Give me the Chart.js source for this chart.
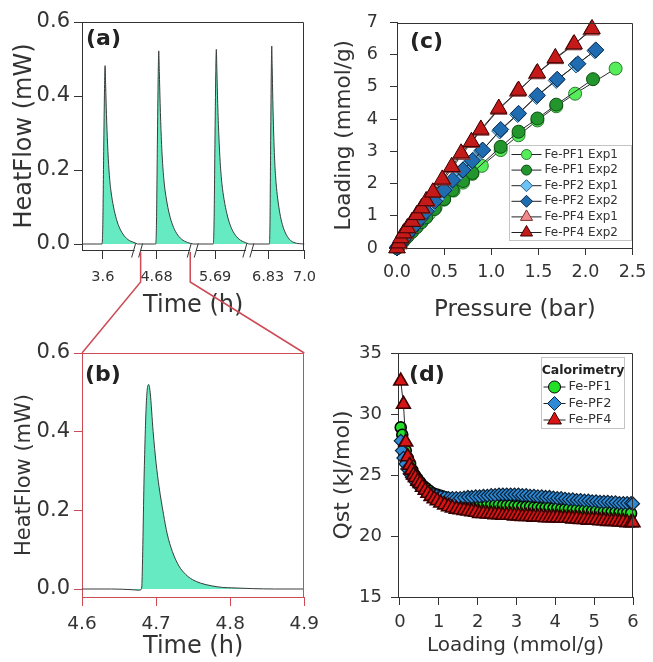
<!DOCTYPE html>
<html>
<head>
<meta charset="utf-8">
<title>Fe-PF calorimetry</title>
<script src="https://cdn.jsdelivr.net/npm/chart.js@4.4.1/dist/chart.umd.min.js"></script>
<style>
  html, body { margin: 0; padding: 0; background: #fff; }
  #sheet { position: relative; width: 653px; height: 662px; overflow: hidden; }
  #sheet canvas { position: absolute; }
</style>
</head>
<body>
<div id="sheet">
  <canvas id="chartA" width="326" height="322" style="left:0px;top:0px"></canvas>
  <canvas id="chartB" width="326" height="332" style="left:0px;top:330px"></canvas>
  <canvas id="chartC" width="327" height="330" style="left:326px;top:0px"></canvas>
  <canvas id="chartD" width="327" height="332" style="left:326px;top:330px"></canvas>
  <canvas id="links" width="653" height="662" style="left:0px;top:0px"></canvas>
</div>
<script>
// ---- (a) heat flow peaks, time axis broken in four pieces
const segmentsA = [[3.525, 3.725], [4.612, 4.812], [5.611, 5.811], [6.74, 7.0]];
const tickTimesA = [3.6, 4.68, 5.69, 6.83, 7.0];
const tickLabelsA = ['3.6', '4.68', '5.69', '6.83', '7.0'];

const timeA1 = [3.525, 3.597, 3.600, 3.603, 3.606, 3.608, 3.610, 3.613, 3.617, 3.622, 3.628, 3.636, 3.646, 3.658, 3.672, 3.690, 3.712, 3.725];
const heatA1 = [0, 0, 0.06, 0.25, 0.42, 0.482, 0.43, 0.35, 0.27, 0.20, 0.15, 0.11, 0.075, 0.047, 0.027, 0.012, 0.004, 0];
const timeA2 = [4.612, 4.677, 4.680, 4.683, 4.686, 4.688, 4.690, 4.693, 4.697, 4.702, 4.708, 4.716, 4.726, 4.738, 4.752, 4.770, 4.792, 4.812];
const heatA2 = [0, 0, 0.065, 0.27, 0.455, 0.522, 0.466, 0.38, 0.29, 0.217, 0.162, 0.119, 0.081, 0.051, 0.029, 0.013, 0.004, 0];
const timeA3 = [5.611, 5.683, 5.686, 5.689, 5.692, 5.694, 5.696, 5.699, 5.703, 5.708, 5.714, 5.722, 5.732, 5.744, 5.758, 5.776, 5.798, 5.811];
const heatA3 = [0, 0, 0.065, 0.27, 0.46, 0.526, 0.47, 0.38, 0.295, 0.22, 0.164, 0.12, 0.082, 0.051, 0.029, 0.013, 0.004, 0];
const timeA4 = [6.74, 6.836, 6.839, 6.842, 6.845, 6.847, 6.849, 6.852, 6.856, 6.861, 6.867, 6.875, 6.885, 6.897, 6.911, 6.929, 6.951, 6.975, 7.0];
const heatA4 = [0, 0, 0.067, 0.28, 0.47, 0.535, 0.48, 0.39, 0.30, 0.222, 0.167, 0.122, 0.083, 0.052, 0.03, 0.013, 0.004, 0.001, 0];

// ---- (b) zoom on the second peak
const timeB = [4.600, 4.640, 4.670, 4.676, 4.680, 4.681, 4.684, 4.687, 4.690, 4.692, 4.696, 4.700, 4.704, 4.710, 4.715, 4.722, 4.731, 4.740, 4.749, 4.760, 4.775, 4.790, 4.802, 4.830, 4.860, 4.900];
const heatB = [0.000, 0.000, -0.002, -0.003, -0.001, 0.02, 0.30, 0.48, 0.52, 0.50, 0.40, 0.32, 0.26, 0.19, 0.14, 0.095, 0.058, 0.037, 0.024, 0.015, 0.008, 0.004, 0.003, 0.001, 0.000, 0.000];
const heatTicks = [0, 0.2, 0.4, 0.6];
const timeTicksB = [4.6, 4.7, 4.8, 4.9];

// ---- (c) isotherms
const presPF1e1 = [0.00, 0.02, 0.05, 0.08, 0.12, 0.17, 0.22, 0.28, 0.34, 0.41, 0.50, 0.60, 0.70, 0.80, 0.90, 1.10, 1.29, 1.49, 1.69, 1.89, 2.32];
const loadPF1e1 = [0.00, 0.07, 0.17, 0.27, 0.40, 0.55, 0.71, 0.89, 1.06, 1.26, 1.50, 1.78, 2.03, 2.30, 2.55, 3.04, 3.50, 3.96, 4.40, 4.79, 5.57];
const presPF1e2 = [0.00, 0.02, 0.04, 0.07, 0.11, 0.16, 0.21, 0.26, 0.31, 0.40, 0.50, 0.59, 0.70, 0.80, 1.10, 1.29, 1.49, 1.69, 2.08];
const loadPF1e2 = [0.00, 0.07, 0.13, 0.22, 0.35, 0.50, 0.65, 0.80, 0.95, 1.21, 1.52, 1.80, 2.08, 2.33, 3.14, 3.61, 4.02, 4.45, 5.24];
const presPF2e1 = [0.00, 0.02, 0.04, 0.07, 0.11, 0.16, 0.21, 0.27, 0.33, 0.42, 0.51, 0.61, 0.71, 0.81, 0.90, 1.09, 1.28, 1.48, 1.69, 1.90, 2.10];
const loadPF2e1 = [0.00, 0.07, 0.15, 0.26, 0.42, 0.60, 0.78, 0.99, 1.20, 1.52, 1.82, 2.15, 2.46, 2.74, 3.02, 3.63, 4.14, 4.70, 5.20, 5.68, 6.12];
const presPF2e2 = [0.00, 0.01, 0.03, 0.06, 0.10, 0.15, 0.20, 0.25, 0.31, 0.40, 0.50, 0.59, 0.70, 0.80, 0.91, 1.10, 1.29, 1.49, 1.70, 1.92, 2.11];
const loadPF2e2 = [0.00, 0.04, 0.11, 0.23, 0.38, 0.56, 0.74, 0.93, 1.14, 1.45, 1.80, 2.11, 2.42, 2.71, 3.04, 3.68, 4.18, 4.74, 5.24, 5.72, 6.15];
const presPF4e1 = [0.00, 0.02, 0.05, 0.08, 0.12, 0.17, 0.22, 0.27, 0.32, 0.39, 0.49, 0.59, 0.69, 0.79, 0.89, 1.08, 1.28, 1.48, 1.68, 1.87, 2.06];
const loadPF4e1 = [0.00, 0.12, 0.30, 0.45, 0.62, 0.82, 1.02, 1.22, 1.44, 1.72, 2.10, 2.50, 2.90, 3.27, 3.65, 4.30, 4.86, 5.40, 5.87, 6.30, 6.76];
const presPF4e2 = [0.00, 0.02, 0.04, 0.07, 0.11, 0.16, 0.21, 0.26, 0.31, 0.38, 0.48, 0.58, 0.68, 0.79, 0.89, 1.08, 1.29, 1.49, 1.68, 1.88, 2.07];
const loadPF4e2 = [0.00, 0.15, 0.31, 0.46, 0.62, 0.82, 1.03, 1.24, 1.46, 1.73, 2.13, 2.52, 2.94, 3.30, 3.68, 4.33, 4.89, 5.43, 5.90, 6.33, 6.80];
const presTicks = [0, 0.5, 1.0, 1.5, 2.0, 2.5];
const loadTicks = [0, 1, 2, 3, 4, 5, 6, 7];

// ---- (d) isosteric heat from calorimetry
const loadPF1 = [0.02, 0.06, 0.10, 0.15, 0.20, 0.26, 0.32, 0.38, 0.45, 0.52, 0.60, 0.68, 0.76, 0.85, 0.95,
  1.05, 1.15, 1.25, 1.35, 1.45, 1.55, 1.65, 1.75, 1.85, 1.95, 2.05, 2.15, 2.25, 2.35, 2.45, 2.55, 2.65, 2.75, 2.85, 2.95,
  3.05, 3.15, 3.25, 3.35, 3.45, 3.55, 3.65, 3.75, 3.85, 3.95, 4.05, 4.15, 4.25, 4.35, 4.45, 4.55, 4.65, 4.75, 4.85, 4.95,
  5.05, 5.15, 5.25, 5.35, 5.45, 5.55, 5.65, 5.75, 5.85, 5.95];
const qstPF1 = [28.9, 28.3, 27.6, 27.0, 26.4, 25.9, 25.4, 25.0, 24.7, 24.4, 24.1, 23.9, 23.7, 23.5, 23.4,
  23.3, 23.2, 23.1, 23.0, 22.95, 22.9, 22.85, 22.8, 22.75, 22.7, 22.7, 22.65, 22.6, 22.6, 22.55, 22.55, 22.5, 22.5, 22.5, 22.45,
  22.45, 22.4, 22.4, 22.4, 22.35, 22.35, 22.3, 22.3, 22.3, 22.25, 22.25, 22.2, 22.2, 22.2, 22.15, 22.15, 22.1, 22.1, 22.1, 22.05,
  22.05, 22.0, 22.0, 22.0, 21.95, 21.95, 21.9, 21.9, 21.9, 21.85];
const loadPF2 = [0.02, 0.05, 0.09, 0.14, 0.19, 0.25, 0.31, 0.38, 0.45, 0.52, 0.60, 0.68, 0.76, 0.85, 0.95,
  1.05, 1.15, 1.25, 1.35, 1.45, 1.55, 1.65, 1.75, 1.85, 1.95, 2.05, 2.15, 2.25, 2.35, 2.45, 2.55, 2.65, 2.75, 2.85, 2.95,
  3.05, 3.15, 3.25, 3.35, 3.45, 3.55, 3.65, 3.75, 3.85, 3.95, 4.05, 4.15, 4.25, 4.35, 4.45, 4.55, 4.65, 4.75, 4.85, 4.95,
  5.05, 5.15, 5.25, 5.35, 5.45, 5.55, 5.65, 5.75, 5.85, 5.95, 6.00];
const qstPF2 = [27.8, 27.0, 26.4, 25.9, 25.5, 25.1, 24.8, 24.5, 24.2, 24.0, 23.8, 23.6, 23.5, 23.4, 23.3,
  23.2, 23.15, 23.1, 23.1, 23.1, 23.1, 23.15, 23.2, 23.2, 23.25, 23.25, 23.3, 23.3, 23.35, 23.35, 23.4, 23.4, 23.4, 23.4, 23.4,
  23.4, 23.35, 23.35, 23.3, 23.3, 23.25, 23.25, 23.2, 23.2, 23.15, 23.1, 23.1, 23.05, 23.0, 23.0, 22.95, 22.95, 22.9, 22.9, 22.85,
  22.85, 22.8, 22.8, 22.8, 22.75, 22.75, 22.7, 22.7, 22.7, 22.7, 22.65];
const loadPF4 = [0.02, 0.09, 0.15, 0.20, 0.25, 0.30, 0.35, 0.40, 0.46, 0.52, 0.58, 0.65, 0.72, 0.80, 0.88, 0.96,
  1.05, 1.15, 1.25, 1.35, 1.45, 1.55, 1.65, 1.75, 1.85, 1.95, 2.05, 2.15, 2.25, 2.35, 2.45, 2.55, 2.65, 2.75, 2.85, 2.95,
  3.05, 3.15, 3.25, 3.35, 3.45, 3.55, 3.65, 3.75, 3.85, 3.95, 4.05, 4.15, 4.25, 4.35, 4.45, 4.55, 4.65, 4.75, 4.85, 4.95,
  5.05, 5.15, 5.25, 5.35, 5.45, 5.55, 5.65, 5.75, 5.85, 5.95, 6.00];
const qstPF4 = [32.7, 30.8, 27.7, 26.5, 25.8, 25.4, 25.0, 24.8, 24.5, 24.3, 24.0, 23.75, 23.5, 23.25, 23.05, 22.9,
  22.7, 22.55, 22.4, 22.3, 22.2, 22.15, 22.1, 22.05, 22.0, 21.95, 21.85, 21.85, 21.8, 21.8, 21.75, 21.75, 21.7, 21.7, 21.7, 21.65,
  21.65, 21.6, 21.6, 21.6, 21.55, 21.55, 21.55, 21.5, 21.5, 21.5, 21.5, 21.45, 21.45, 21.45, 21.4, 21.4, 21.35, 21.35, 21.3, 21.3,
  21.3, 21.25, 21.25, 21.2, 21.2, 21.2, 21.15, 21.15, 21.1, 21.1, 21.1];
const qLoadTicks = [0, 1, 2, 3, 4, 5, 6];
const qstTicks = [15, 20, 25, 30, 35];

Chart.defaults.font.family = '"DejaVu Sans", sans-serif';
Chart.defaults.color = '#333';

const TEAL = '#66eac2';
const RED = '#cd4b55';
const INK = '#333';

// time -> position on the broken axis (one unit per piece)
function brokenX(t) {
    for (let i = 0; i < segmentsA.length; i++) {
        const [s, e] = segmentsA[i];
        if (t >= s - 1e-9 && t <= e + 1e-9) return i + (t - s) / (e - s);
    }
    return NaN;
}

function points(xs, ys, fx) {
    return xs.map((x, i) => ({ x: fx ? fx(x) : x, y: ys[i] }));
}

// small marker painter, shared by the two legends
function drawMarker(ctx, style, x, y, r, fill, edge) {
    ctx.beginPath();
    if (style === 'circle') {
        ctx.arc(x, y, r, 0, Math.PI * 2);
    } else if (style === 'rectRot') {
        ctx.moveTo(x, y - r); ctx.lineTo(x + r, y); ctx.lineTo(x, y + r); ctx.lineTo(x - r, y);
    } else {
        ctx.moveTo(x, y - r); ctx.lineTo(x + 0.866 * r, y + 0.5 * r); ctx.lineTo(x - 0.866 * r, y + 0.5 * r);
    }
    ctx.closePath();
    ctx.fillStyle = fill; ctx.fill();
    ctx.strokeStyle = edge; ctx.lineWidth = 1; ctx.stroke();
}

// top and right sides of the box
const framePlugin = {
    id: 'frame',
    afterDraw(chart, args, opts) {
        const { ctx, chartArea: a } = chart;
        const l = Math.round(a.left) + 0.5, t = Math.round(a.top) + 0.5;
        const r = Math.round(a.right) - 0.5, b = Math.round(a.bottom) + 0.5;
        ctx.save();
        ctx.strokeStyle = opts.color;
        ctx.lineWidth = 1;
        ctx.beginPath();
        ctx.moveTo(l, t); ctx.lineTo(r, t); ctx.lineTo(r, b);
        ctx.stroke();
        ctx.restore();
    }
};

// panel letter
const tagPlugin = {
    id: 'tag',
    afterDraw(chart, args, opts) {
        const { ctx, chartArea: a } = chart;
        ctx.save();
        ctx.font = 'bold ' + opts.size + 'px "DejaVu Sans"';
        ctx.fillStyle = '#222';
        ctx.textBaseline = 'middle';
        ctx.fillText(opts.text, a.left + opts.dx, a.top + opts.dy);
        ctx.restore();
    }
};

// "//" marks on the broken axis of (a)
const breakPlugin = {
    id: 'axisBreaks',
    afterDraw(chart, args, opts) {
        const { ctx, chartArea: a, scales } = chart;
        const y = Math.round(a.bottom) + 0.5;
        ctx.save();
        opts.at.forEach(v => {
            const px = scales.x.getPixelForValue(v);
            ctx.fillStyle = '#fff';
            ctx.fillRect(px - 3, y - 2, 6, 4);
            ctx.strokeStyle = INK;
            ctx.lineWidth = 1;
            ctx.beginPath();
            ctx.moveTo(px - 6, y + 7); ctx.lineTo(px - 2, y - 7);
            ctx.moveTo(px + 1, y + 7); ctx.lineTo(px + 5, y - 7);
            ctx.stroke();
        });
        ctx.restore();
    }
};

// legend box inside the plot area
const legendPlugin = {
    id: 'boxLegend',
    afterDraw(chart, args, o) {
        const { ctx, chartArea: a } = chart;
        const x0 = Math.round(a.right - o.right - o.w) + 0.5, y0 = Math.round(a.top + o.top) + 0.5;
        ctx.save();
        ctx.fillStyle = '#fff';
        ctx.fillRect(x0, y0, o.w, o.h);
        ctx.strokeStyle = '#c4c4c4';
        ctx.lineWidth = 1;
        ctx.strokeRect(x0, y0, o.w, o.h);
        ctx.textBaseline = 'middle';
        let y = y0 + o.first;
        if (o.title) {
            ctx.font = 'bold ' + o.titleSize + 'px "DejaVu Sans"';
            ctx.fillStyle = '#222';
            ctx.textAlign = 'center';
            ctx.fillText(o.title, x0 + o.w / 2, y);
            y += o.rowH;
        }
        ctx.textAlign = 'left';
        o.items.forEach(idx => {
            const ds = chart.data.datasets[idx];
            const lx = x0 + o.lineX;
            ctx.strokeStyle = '#222';
            ctx.lineWidth = 1;
            ctx.beginPath();
            ctx.moveTo(lx, y); ctx.lineTo(lx + o.lineW, y);
            ctx.stroke();
            drawMarker(ctx, ds.pointStyle, lx + o.lineW / 2, y, o.markR[ds.pointStyle], ds.pointBackgroundColor, ds.pointBorderColor);
            ctx.font = o.size + 'px "DejaVu Sans"';
            ctx.fillStyle = '#333';
            ctx.fillText(ds.label, lx + o.lineW + 3, y);
            y += o.rowH;
        });
        ctx.restore();
    }
};

function axisLook(color, tickLen, size, pad) {
    return {
        border: { color: color, width: 1 },
        grid: { drawOnChartArea: false, drawTicks: true, tickLength: tickLen, tickColor: color, tickWidth: 1 },
        ticks: { font: { size: size }, color: INK, padding: pad, autoSkip: false, maxRotation: 0 }
    };
}

const baseOptions = {
    responsive: false,
    animation: false,
    devicePixelRatio: 1,
    events: []
};

// (a)
const xA = axisLook(INK, 9, 14.5, 10);
xA.ticks.callback = (v, i) => tickLabelsA[i];
const yA = axisLook(INK, 8, 21, 4);
yA.ticks.callback = v => v.toFixed(1);

const peakSets = [[timeA1, heatA1], [timeA2, heatA2], [timeA3, heatA3], [timeA4, heatA4]];

const chartA = new Chart(document.getElementById('chartA').getContext('2d'), {
    type: 'line',
    data: {
        datasets: peakSets.map(p => ({
            data: points(p[0], p[1], brokenX),
            borderColor: '#3c3c3c',
            borderWidth: 1,
            backgroundColor: TEAL,
            fill: 'origin',
            pointRadius: 0,
            cubicInterpolationMode: 'monotone'
        }))
    },
    options: Object.assign({}, baseOptions, {
        layout: { padding: { top: 22, right: 20, left: 0, bottom: 0 } },
        plugins: {
            legend: { display: false }, tooltip: { enabled: false },
            frame: { color: INK },
            tag: { text: '(a)', size: 22, dx: 4, dy: 17 },
            axisBreaks: { at: [1, 2, 3] }
        },
        scales: {
            x: Object.assign(xA, {
                type: 'linear', min: 0, max: segmentsA.length,
                afterBuildTicks: s => { s.ticks = tickTimesA.map(t => ({ value: brokenX(t) })); },
                afterFit: s => { s.height = 72; },
                title: { display: true, text: 'Time (h)', color: INK, font: { size: 24 }, padding: { top: 0, bottom: 1.5 } }
            }),
            y: Object.assign(yA, {
                type: 'linear', min: -0.0162, max: 0.6,
                afterBuildTicks: s => { s.ticks = heatTicks.map(v => ({ value: v })); },
                afterFit: s => { s.width = 82; },
                title: { display: true, text: 'HeatFlow (mW)', color: INK, font: { size: 24 }, padding: { top: 10.6, bottom: 0 } }
            })
        }
    }),
    plugins: [framePlugin, tagPlugin, breakPlugin]
});

// (b)
const xB = axisLook(RED, 9, 18.5, 7);
xB.ticks.callback = v => v.toFixed(1);
const yB = axisLook(RED, 8, 21, 4);
yB.ticks.callback = v => v.toFixed(1);

const chartB = new Chart(document.getElementById('chartB').getContext('2d'), {
    type: 'line',
    data: {
        datasets: [{
            data: points(timeB, heatB),
            borderColor: '#3c3c3c',
            borderWidth: 1,
            backgroundColor: TEAL,
            fill: 'origin',
            pointRadius: 0,
            cubicInterpolationMode: 'monotone'
        }]
    },
    options: Object.assign({}, baseOptions, {
        layout: { padding: { top: 23, right: 20, left: 0, bottom: 0 } },
        plugins: {
            legend: { display: false }, tooltip: { enabled: false },
            frame: { color: RED },
            tag: { text: '(b)', size: 22, dx: 3, dy: 22 },
        },
        scales: {
            x: Object.assign(xB, {
                type: 'linear', min: 4.6, max: 4.9,
                afterBuildTicks: s => { s.ticks = timeTicksB.map(v => ({ value: v })); },
                afterFit: s => { s.height = 65; },
                title: { display: true, text: 'Time (h)', color: INK, font: { size: 24 }, padding: { top: 0, bottom: 0.5 } }
            }),
            y: Object.assign(yB, {
                type: 'linear', min: -0.0203, max: 0.6,
                afterBuildTicks: s => { s.ticks = heatTicks.map(v => ({ value: v })); },
                afterFit: s => { s.width = 82; },
                title: { display: true, text: 'HeatFlow (mW)', color: INK, font: { size: 21 }, padding: { top: 12.4, bottom: 0 } }
            })
        }
    }),
    plugins: [framePlugin, tagPlugin]
});

// (c)
function isoSeries(label, xs, ys, style, fill, edge, r, order, edgeW) {
    return {
        label: label,
        data: points(xs, ys),
        showLine: true,
        borderColor: '#2a2a2a',
        borderWidth: 1,
        pointStyle: style,
        pointRadius: r,
        pointBackgroundColor: fill,
        pointBorderColor: edge,
        pointBorderWidth: edgeW || 1,
        clip: false,
        order: order
    };
}

const xC = axisLook(INK, 7, 17.5, 6.5);
xC.ticks.callback = v => v.toFixed(1);
const yC = axisLook(INK, 7, 17.5, 12);

const chartC = new Chart(document.getElementById('chartC').getContext('2d'), {
    type: 'scatter',
    data: {
        datasets: [
            isoSeries('Fe-PF1 Exp1', presPF1e1, loadPF1e1, 'circle', '#55ee5a', '#2a7a2e', 6.5, 6),
            isoSeries('Fe-PF1 Exp2', presPF1e2, loadPF1e2, 'circle', '#22962c', '#0e4a12', 6.5, 5),
            isoSeries('Fe-PF2 Exp1', presPF2e1, loadPF2e1, 'rectRot', '#6ec1f5', '#2a5f88', 8, 4),
            isoSeries('Fe-PF2 Exp2', presPF2e2, loadPF2e2, 'rectRot', '#1f6cb0', '#0b2a4d', 8, 3),
            isoSeries('Fe-PF4 Exp1', presPF4e1, loadPF4e1, 'triangle', '#f08a8a', '#7a3030', 9.5, 2),
            isoSeries('Fe-PF4 Exp2', presPF4e2, loadPF4e2, 'triangle', '#c41a1a', '#3a0000', 9.5, 1)
        ]
    },
    options: Object.assign({}, baseOptions, {
        layout: { padding: { top: 22, right: 18, left: 0, bottom: 0 } },
        plugins: {
            legend: { display: false }, tooltip: { enabled: false },
            frame: { color: INK },
            tag: { text: '(c)', size: 22, dx: 13, dy: 20 },
            boxLegend: {
                right: 2, top: 122, w: 122, h: 95, first: 9, rowH: 15.6,
                lineX: 2, lineW: 30, size: 12, items: [0, 1, 2, 3, 4, 5],
                markR: { circle: 5, rectRot: 6, triangle: 7 }
            }
        },
        scales: {
            x: Object.assign(xC, {
                type: 'linear', min: 0, max: 2.5,
                afterBuildTicks: s => { s.ticks = presTicks.map(v => ({ value: v })); },
                afterFit: s => { s.height = 82; },
                title: { display: true, text: 'Pressure (bar)', color: INK, font: { size: 23 }, padding: { top: 0, bottom: 6.2 } }
            }),
            y: Object.assign(yC, {
                type: 'linear', min: 0, max: 7,
                afterBuildTicks: s => { s.ticks = loadTicks.map(v => ({ value: v })); },
                afterFit: s => { s.width = 71; },
                title: { display: true, text: 'Loading (mmol/g)', color: INK, font: { size: 21.5 }, padding: { top: 6, bottom: 0 } }
            })
        }
    }),
    plugins: [framePlugin, tagPlugin, legendPlugin]
});

// (d)
const xD = axisLook(INK, 8, 18, 6.7);
const yD = axisLook(INK, 7, 18, 9);

const chartD = new Chart(document.getElementById('chartD').getContext('2d'), {
    type: 'scatter',
    data: {
        datasets: [
            isoSeries('Fe-PF1', loadPF1, qstPF1, 'circle', '#22e028', '#000', 5.5, 3, 1.6),
            isoSeries('Fe-PF2', loadPF2, qstPF2, 'rectRot', '#2c8ad6', '#0d2236', 6.5, 2, 1.2),
            isoSeries('Fe-PF4', loadPF4, qstPF4, 'triangle', '#d81414', '#3a0000', 8, 1, 1.6)
        ]
    },
    options: Object.assign({}, baseOptions, {
        layout: { padding: { top: 23, right: 20, left: 0, bottom: 0 } },
        plugins: {
            legend: { display: false }, tooltip: { enabled: false },
            frame: { color: INK },
            tag: { text: '(d)', size: 22, dx: 11, dy: 22 },
            boxLegend: {
                right: 9, top: 4, w: 83, h: 71, first: 13, rowH: 16.5,
                lineX: 2, lineW: 22, size: 13, title: 'Calorimetry', titleSize: 12.5, items: [0, 1, 2],
                markR: { circle: 6, rectRot: 7, triangle: 8 }
            }
        },
        scales: {
            x: Object.assign(xD, {
                type: 'linear', min: -0.05, max: 6,
                afterBuildTicks: s => { s.ticks = qLoadTicks.map(v => ({ value: v })); },
                afterFit: s => { s.height = 65; },
                title: { display: true, text: 'Loading (mmol/g)', color: INK, font: { size: 20 }, padding: { top: 0, bottom: 4 } }
            }),
            y: Object.assign(yD, {
                type: 'linear', min: 15, max: 35,
                afterBuildTicks: s => { s.ticks = qstTicks.map(v => ({ value: v })); },
                afterFit: s => { s.width = 72; },
                title: { display: true, text: 'Qst (kJ/mol)', color: INK, font: { size: 22 }, padding: { top: 4, bottom: 0 } }
            })
        }
    }),
    plugins: [framePlugin, tagPlugin, legendPlugin]
});

// red guide lines from the second piece of (a) down to the box of (b)
(function drawLinks() {
    const ctx = document.getElementById('links').getContext('2d');
    const canA = chartA.canvas, canB = chartB.canvas;
    const axisY = chartA.chartArea.bottom + canA.offsetTop;
    const leftX = chartA.scales.x.getPixelForValue(1) + 3 + canA.offsetLeft;
    const rightX = chartA.scales.x.getPixelForValue(2) - 3 + canA.offsetLeft;
    const boxTop = chartB.chartArea.top + canB.offsetTop;
    const kneeY = axisY + 32;
    ctx.strokeStyle = RED;
    ctx.lineWidth = 1.5;
    ctx.beginPath();
    ctx.moveTo(leftX, axisY + 2); ctx.lineTo(leftX, kneeY); ctx.lineTo(chartB.chartArea.left + canB.offsetLeft, boxTop);
    ctx.moveTo(rightX, axisY + 2); ctx.lineTo(rightX, kneeY); ctx.lineTo(chartB.chartArea.right + canB.offsetLeft, boxTop);
    ctx.stroke();
})();
</script>
</body>
</html>
